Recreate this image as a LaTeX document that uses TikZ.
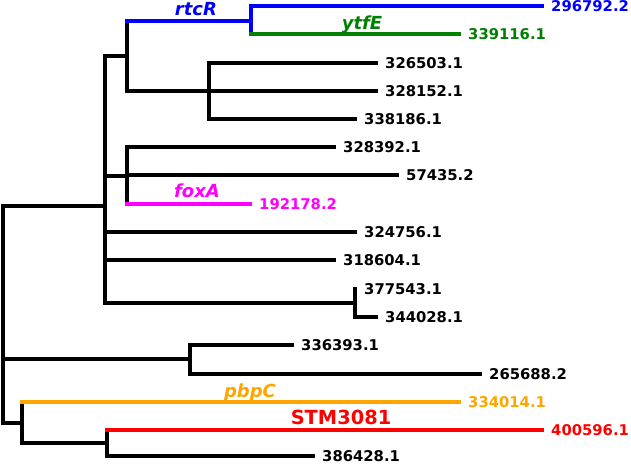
\documentclass[tikz,border=0pt]{standalone}
\usepackage{fontspec}
\setmainfont{DejaVu Sans}
\definecolor{tblue}{RGB}{0,0,255}
\definecolor{tgreen}{RGB}{0,128,0}
\definecolor{tmag}{RGB}{255,0,255}
\definecolor{torange}{RGB}{255,165,0}
\definecolor{tred}{RGB}{255,0,0}
\tikzset{
  br/.style={line width=3.2pt, line cap=rect},
  vbr/.style={line width=3.2pt, line cap=rect},
  leaflab/.style={anchor=west, inner sep=0pt, font=\fontsize{14.8}{16}\selectfont\bfseries},
  genelab/.style={anchor=base, inner sep=0pt, font=\fontsize{18}{20}\selectfont\bfseries\itshape},
}
\begin{document}
\begin{tikzpicture}[x=1pt,y=-1pt]
\useasboundingbox (0,0) rectangle (631,464);
% internal nodes
\coordinate (R) at (3,206);
\coordinate (A) at (105,206);
\coordinate (B) at (127,56);
\coordinate (E) at (251,21);
\coordinate (F) at (209,91);
\coordinate (C) at (127,176);
\coordinate (D) at (355,303);
\coordinate (G) at (190,359);
\coordinate (H) at (22,423);
\coordinate (I) at (107,443);
% leaves
\coordinate (l1) at (542,6);
\coordinate (l2) at (459,34);
\coordinate (l3) at (376,63);
\coordinate (l4) at (376,91);
\coordinate (l5) at (355,119);
\coordinate (l6) at (334,147);
\coordinate (l7) at (397,175);
\coordinate (l8) at (250,204);
\coordinate (l9) at (355,232);
\coordinate (l10) at (334,260);
\coordinate (l11) at (355,289);
\coordinate (l12) at (376,317);
\coordinate (l13) at (292,345);
\coordinate (l14) at (480,374);
\coordinate (l15) at (459,402);
\coordinate (l16) at (542,430);
\coordinate (l17) at (313,456);
% verticals
\draw[vbr] (R |- A) -- (R |- H);
\draw[vbr] (A |- B) -- (A |- D);
\draw[vbr] (B |- E) -- (B |- F);
\draw[vbr,tblue] (E |- l1) -- (E |- l2);
\draw[vbr] (F |- l3) -- (F |- l5);
\draw[vbr] (C |- l6) -- (C |- l8);
\draw[vbr] (D |- l11) -- (D |- l12);
\draw[vbr] (G |- l13) -- (G |- l14);
\draw[vbr] (H |- l15) -- (H |- I);
\draw[vbr] (I |- l16) -- (I |- l17);
% horizontals
\draw[br] (R |- A) -- (A);
\draw[br] (R |- G) -- (G);
\draw[br] (R |- H) -- (H);
\draw[br] (A |- B) -- (B);
\draw[br] (A |- C) -- (C);
\draw[br] (A |- l9) -- (l9);
\draw[br] (A |- l10) -- (l10);
\draw[br] (A |- D) -- (D);
\draw[br,tblue] (B |- E) -- (E);
\draw[br] (B |- F) -- (F);
\draw[br,tblue] (E |- l1) -- (l1);
\draw[br,tgreen] (E |- l2) -- (l2);
\draw[br] (F |- l3) -- (l3);
\draw[br] (F |- l4) -- (l4);
\draw[br] (F |- l5) -- (l5);
\draw[br] (C |- l6) -- (l6);
\draw[br] (C |- l7) -- (l7);
\draw[br,tmag] (C |- l8) -- (l8);
\draw[br] (D |- l12) -- (l12);
\draw[br] (G |- l13) -- (l13);
\draw[br] (G |- l14) -- (l14);
\draw[br,torange] (H |- l15) -- (l15);
\draw[br] (H |- I) -- (I);
\draw[br,tred] (I |- l16) -- (l16);
\draw[br] (I |- l17) -- (l17);
% leaf labels
\node[leaflab,tblue] (t1) at ([xshift=9pt]l1) {296792.2};
\node[leaflab,tgreen] (t2) at ([xshift=9pt]l2) {339116.1};
\node[leaflab] (t3) at ([xshift=9pt]l3) {326503.1};
\node[leaflab] (t4) at ([xshift=9pt]l4) {328152.1};
\node[leaflab] (t5) at ([xshift=9pt]l5) {338186.1};
\node[leaflab] (t6) at ([xshift=9pt]l6) {328392.1};
\node[leaflab] (t7) at ([xshift=9pt]l7) {57435.2};
\node[leaflab,tmag] (t8) at ([xshift=9pt]l8) {192178.2};
\node[leaflab] (t9) at ([xshift=9pt]l9) {324756.1};
\node[leaflab] (t10) at ([xshift=9pt]l10) {318604.1};
\node[leaflab] (t11) at ([xshift=9pt]l11) {377543.1};
\node[leaflab] (t12) at ([xshift=9pt]l12) {344028.1};
\node[leaflab] (t13) at ([xshift=9pt]l13) {336393.1};
\node[leaflab] (t14) at ([xshift=9pt]l14) {265688.2};
\node[leaflab,torange] (t15) at ([xshift=9pt]l15) {334014.1};
\node[leaflab,tred] (t16) at ([xshift=9pt]l16) {400596.1};
\node[leaflab] (t17) at ([xshift=9pt]l17) {386428.1};
% gene labels
\node[genelab,tblue] (g1) at (196,15) {rtcR};
\node[genelab,tgreen] (g2) at (362,29) {ytfE};
\node[genelab,tmag] (g3) at (197,197) {foxA};
\node[genelab,torange] (g4) at (250,397) {pbpC};
\node[genelab,tred,font=\fontsize{19.4}{22}\selectfont\bfseries] (g5) at (341,424) {STM3081};
\end{tikzpicture}
\end{document}
